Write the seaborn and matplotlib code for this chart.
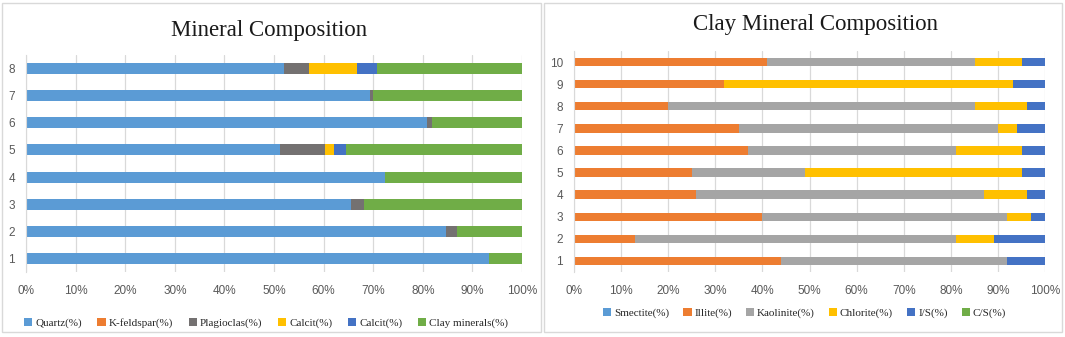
'''
stacked bar charts of mineral / clay mineral composition
'''
import numpy as np
import pandas as pd
import seaborn as sns
import matplotlib as mpl
mpl.use('Agg')
import matplotlib.pyplot as plt
from matplotlib.patches import Patch, Rectangle

#=====================================================
# data (percent)
samples_min = ['1', '2', '3', '4', '5', '6', '7', '8']
quartz      = [93.3, 84.6, 65.5, 72.4, 51.3, 80.8, 69.3, 52.1]
k_feldspar  = [0.0, 0.0, 0.0, 0.0, 0.0, 0.0, 0.0, 0.0]
plagioclas  = [0.0, 2.2, 2.6, 0.0, 8.9, 1.1, 0.7, 5.0]
calcit_y    = [0.0, 0.0, 0.0, 0.0, 1.9, 0.0, 0.0, 9.6]
calcit_b    = [0.0, 0.0, 0.0, 0.0, 2.5, 0.0, 0.0, 4.1]
clay_min    = [6.7, 13.2, 31.9, 27.6, 35.4, 18.1, 30.0, 29.2]
min_labels  = ['Quartz(%)', 'K-feldspar(%)', 'Plagioclas(%)', 'Calcit(%)', 'Calcit(%)', 'Clay minerals(%)']

samples_clay = ['1', '2', '3', '4', '5', '6', '7', '8', '9', '10']
smectite  = [0.0, 0.0, 0.0, 0.0, 0.0, 0.0, 0.0, 0.0, 0.0, 0.0]
illite    = [44.0, 12.9, 40.0, 25.8, 25.0, 36.9, 35.0, 20.0, 31.9, 40.9]
kaolinite = [48.0, 68.2, 52.0, 61.2, 24.0, 44.2, 55.1, 65.1, 0.0, 44.2]
chlorite  = [0.0, 8.0, 5.0, 9.2, 46.2, 14.1, 4.0, 11.1, 61.2, 10.1]
i_s       = [8.0, 10.9, 3.0, 3.8, 4.8, 4.8, 5.9, 3.8, 6.9, 4.8]
c_s       = [0.0, 0.0, 0.0, 0.0, 0.0, 0.0, 0.0, 0.0, 0.0, 0.0]
clay_labels = ['Smectite(%)', 'Illite(%)', 'Kaolinite(%)', 'Chlorite(%)', 'I/S(%)', 'C/S(%)']

colors = ['#5B9BD5', '#ED7D31', '#747171', '#FFC000', '#4472C4', '#70AD47']
colors_clay = ['#5B9BD5', '#ED7D31', '#A5A5A5', '#FFC000', '#4472C4', '#70AD47']
#=====================================================
W, H = 1065, 337
tick_font = ['Liberation Sans Narrow', 'Liberation Sans', 'DejaVu Sans']
serif = ['Liberation Serif', 'DejaVu Serif']
grey = '#D9D9D9'

def stacked(ax, samples, series, cols, width):
    df = pd.DataFrame(np.array(series).T, columns=range(len(series)))
    df['sample'] = samples
    cum = df[list(range(len(series)))].cumsum(axis=1)
    order = samples[::-1]
    # draw the cumulative totals from longest to shortest
    for k in range(len(series) - 1, -1, -1):
        sns.barplot(x=cum[k].values, y=df['sample'], order=order, orient='h',
                    color=cols[k], saturation=1, width=width, linewidth=0, ax=ax)
    ax.set_xlim(0, 100)
    ax.set_xticks(range(0, 101, 10))
    ax.set_xticklabels(['%d%%' % v for v in range(0, 101, 10)])
    ax.set_xlabel('')
    ax.set_ylabel('')
    ax.grid(axis='x', color=grey, linewidth=0.9)
    ax.set_axisbelow(True)
    for s in ['top', 'right', 'bottom']:
        ax.spines[s].set_visible(False)
    ax.spines['left'].set_color(grey)
    ax.tick_params(length=0, labelcolor='#595959')
    ax.tick_params(axis='x', pad=9)
    ax.tick_params(axis='y', pad=8)
    for t in ax.get_xticklabels() + ax.get_yticklabels():
        t.set_family(tick_font)
        t.set_fontsize(8.5)

sns.set_style('white')
fig = plt.figure(figsize=(W / 100, H / 100), dpi=100)

# panel frames
for x0, x1 in [(2, 541), (544, 1062)]:
    fig.patches.append(Rectangle((x0 / W, 1 - 332 / H), (x1 - x0) / W, 329 / H,
                                 transform=fig.transFigure, fill=False,
                                 edgecolor=grey, linewidth=1))

ax1 = fig.add_axes([26 / W, 1 - 272 / H, 496 / W, 217 / H])
stacked(ax1, samples_min, [quartz, k_feldspar, plagioclas, calcit_y, calcit_b, clay_min],
        colors, 0.41)
ax2 = fig.add_axes([574 / W, 1 - 272 / H, 471 / W, 221 / H])
stacked(ax2, samples_clay, [smectite, illite, kaolinite, chlorite, i_s, c_s],
        colors_clay, 0.38)

fig.text(269 / W, 1 - 36 / H, 'Mineral Composition', family=serif, fontsize=16.5,
         ha='center', va='baseline', color='#1a1a1a')
fig.text(815 / W, 1 - 30 / H, 'Clay Mineral Composition', family=serif, fontsize=16.5,
         ha='center', va='baseline', color='#1a1a1a')

def legend(labels, cols, x0, x1, yc):
    handles = [Patch(facecolor=c, edgecolor='none') for c in cols]
    fig.legend(handles, labels, loc='center', ncol=6, mode='expand',
               bbox_to_anchor=(x0 / W, 1 - (yc + 6) / H, (x1 - x0) / W, 12 / H),
               frameon=False, borderaxespad=0, borderpad=0,
               handlelength=0.75, handleheight=0.75, handletextpad=0.25,
               columnspacing=0.5, prop={'family': serif, 'size': 8})

legend(min_labels, colors, 24, 508, 323)
legend(clay_labels, colors_clay, 603, 1006, 313)

plt.savefig('out.png', dpi=100)
